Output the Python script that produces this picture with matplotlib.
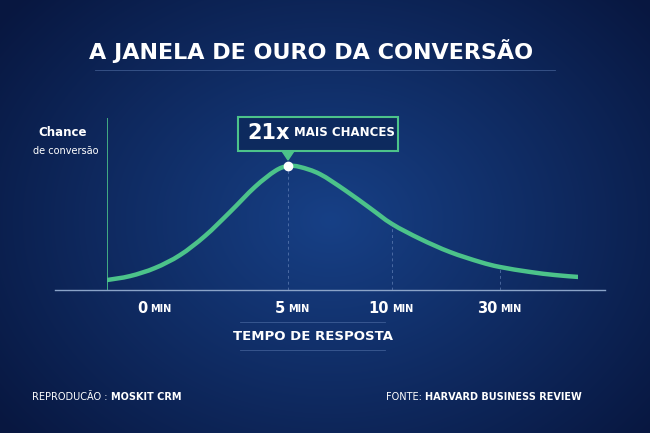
import numpy as np
import matplotlib
matplotlib.use("Agg")
import matplotlib.pyplot as plt
from matplotlib.patches import FancyBboxPatch, Polygon
from matplotlib.path import Path
from matplotlib.patches import PathPatch

# data
pos = [0, 4.9, 10.2, 15.5, 20.8, 26.1, 31.4, 35.7, 38.4, 41, 45.2, 50.5, 55.8, 60.5, 66.5, 72.8, 79.2, 83.4, 89.8, 95.1, 100]
chance = [5.8, 8.1, 12.8, 20.3, 31.4, 45.3, 59.9, 69.2, 72.1, 71.5, 67.4, 58.1, 47.7, 38.4, 29.7, 22.1, 16.3, 13.4, 10.5, 8.7, 7.6]
tick_num = ["0", "5", "10", "30"]
tick_pos = [9.1, 38.4, 60.5, 83.4]
peak_pos, peak_val = 38.4, 72.1

FONT = "DejaVu Sans"
GREEN = "#4cc38a"

fig = plt.figure(figsize=(6.5, 4.33), dpi=100)
bg = fig.add_axes([0, 0, 1, 1])
yy, xx = np.mgrid[0:433, 0:650]
r = np.sqrt(((xx - 330) / 420) ** 2 + ((yy - 220) / 330) ** 2)
c0 = np.array([0x17, 0x40, 0x86]) / 255
c1 = np.array([0x08, 0x17, 0x40]) / 255
t = np.clip(r, 0, 1)[..., None]
bg.imshow(c0 * (1 - t) + c1 * t, extent=[0, 650, 433, 0], aspect="auto")
bg.set_xlim(0, 650); bg.set_ylim(433, 0); bg.axis("off")


def pair(x, y, a, b, sa, sb, wa="normal", wb="bold", gap=0):
    t1 = bg.text(x, y, a, color="white", fontsize=sa, fontweight=wa,
                 family=FONT, ha="left", va="center", zorder=5)
    bg.annotate(b, xy=(1, 0.5), xycoords=t1, xytext=(gap, 0),
                textcoords="offset points", ha="left", va="center",
                color="white", fontsize=sb, fontweight=wb, family=FONT, zorder=5)


bg.plot([95, 555], [70, 70], color="#5a79b0", lw=0.6, alpha=0.6)
bg.text(311, 51, "A JANELA DE OURO DA CONVERSÃO", color="white", fontsize=16,
        fontweight="bold", family=FONT, ha="center", va="center")
bg.plot([55, 605], [290, 290], color="#8aa3c8", lw=1)
bg.plot([240, 385], [322, 322], color="#5a79b0", lw=0.6, alpha=0.6)
bg.plot([240, 385], [350, 350], color="#5a79b0", lw=0.6, alpha=0.6)
bg.text(313, 337, "TEMPO DE RESPOSTA", color="white", fontsize=9.5, fontweight="bold",
        family=FONT, ha="center", va="center")
bg.text(63, 133, "Chance", color="white", fontsize=8.5, fontweight="bold",
        family=FONT, ha="center", va="center")
bg.text(66, 151, "de conversão", color="white", fontsize=7,
        family=FONT, ha="center", va="center")
pair(32, 397, "REPRODUCÃO : ", "MOSKIT CRM", 7, 7)
pair(386, 397, "FONTE: ", "HARVARD BUSINESS REVIEW", 7, 7)

ax = fig.add_axes([107 / 650, (433 - 290) / 433, 471 / 650, 172 / 433])
ax.set_xlim(0, 100); ax.set_ylim(0, 100); ax.axis("off"); ax.patch.set_alpha(0)
ax.plot([0, 0], [0, 100], color=GREEN, lw=1.2)
# smooth curve through the read points (Catmull-Rom as bezier path)
P = np.column_stack([pos, chance])
verts = [P[0]]; codes = [Path.MOVETO]
for i in range(len(P) - 1):
    p0 = P[max(i - 1, 0)]; p1 = P[i]; p2 = P[i + 1]; p3 = P[min(i + 2, len(P) - 1)]
    verts += [p1 + (p2 - p0) / 6, p2 - (p3 - p1) / 6, p2]
    codes += [Path.CURVE4] * 3
ax.add_patch(PathPatch(Path(verts, codes), fc="none", ec=GREEN, lw=3.2, capstyle="round"))
for p in tick_pos[1:]:
    v = np.interp(p, pos, chance)
    ax.plot([p, p], [0, v], color="#6f8cc0", lw=0.7, ls=(0, (3, 3)), alpha=0.6)
ax.plot([peak_pos], [peak_val], "o", color="white", ms=6, zorder=5)
for n, p in zip(tick_num, tick_pos):
    ax.annotate(n, (p, 0), xytext=(-2, -13), textcoords="offset points",
                ha="right", va="center", color="white", fontsize=10.5,
                fontweight="bold", family=FONT)
    ax.annotate("MIN", (p, 0), xytext=(0, -13.5), textcoords="offset points",
                ha="left", va="center", color="white", fontsize=7,
                fontweight="bold", family=FONT)

bg.add_patch(FancyBboxPatch((238, 117), 160, 34, boxstyle="square,pad=0",
             fc="#0d2a5e", ec=GREEN, lw=1.5, zorder=4))
bg.add_patch(Polygon([[282, 151], [294, 151], [288, 160]], closed=True,
             fc=GREEN, ec=GREEN, zorder=4))
pair(247, 133, "21x", "MAIS CHANCES", 15, 8.5, wa="bold", gap=3)

fig.savefig("out.png", dpi=100)
